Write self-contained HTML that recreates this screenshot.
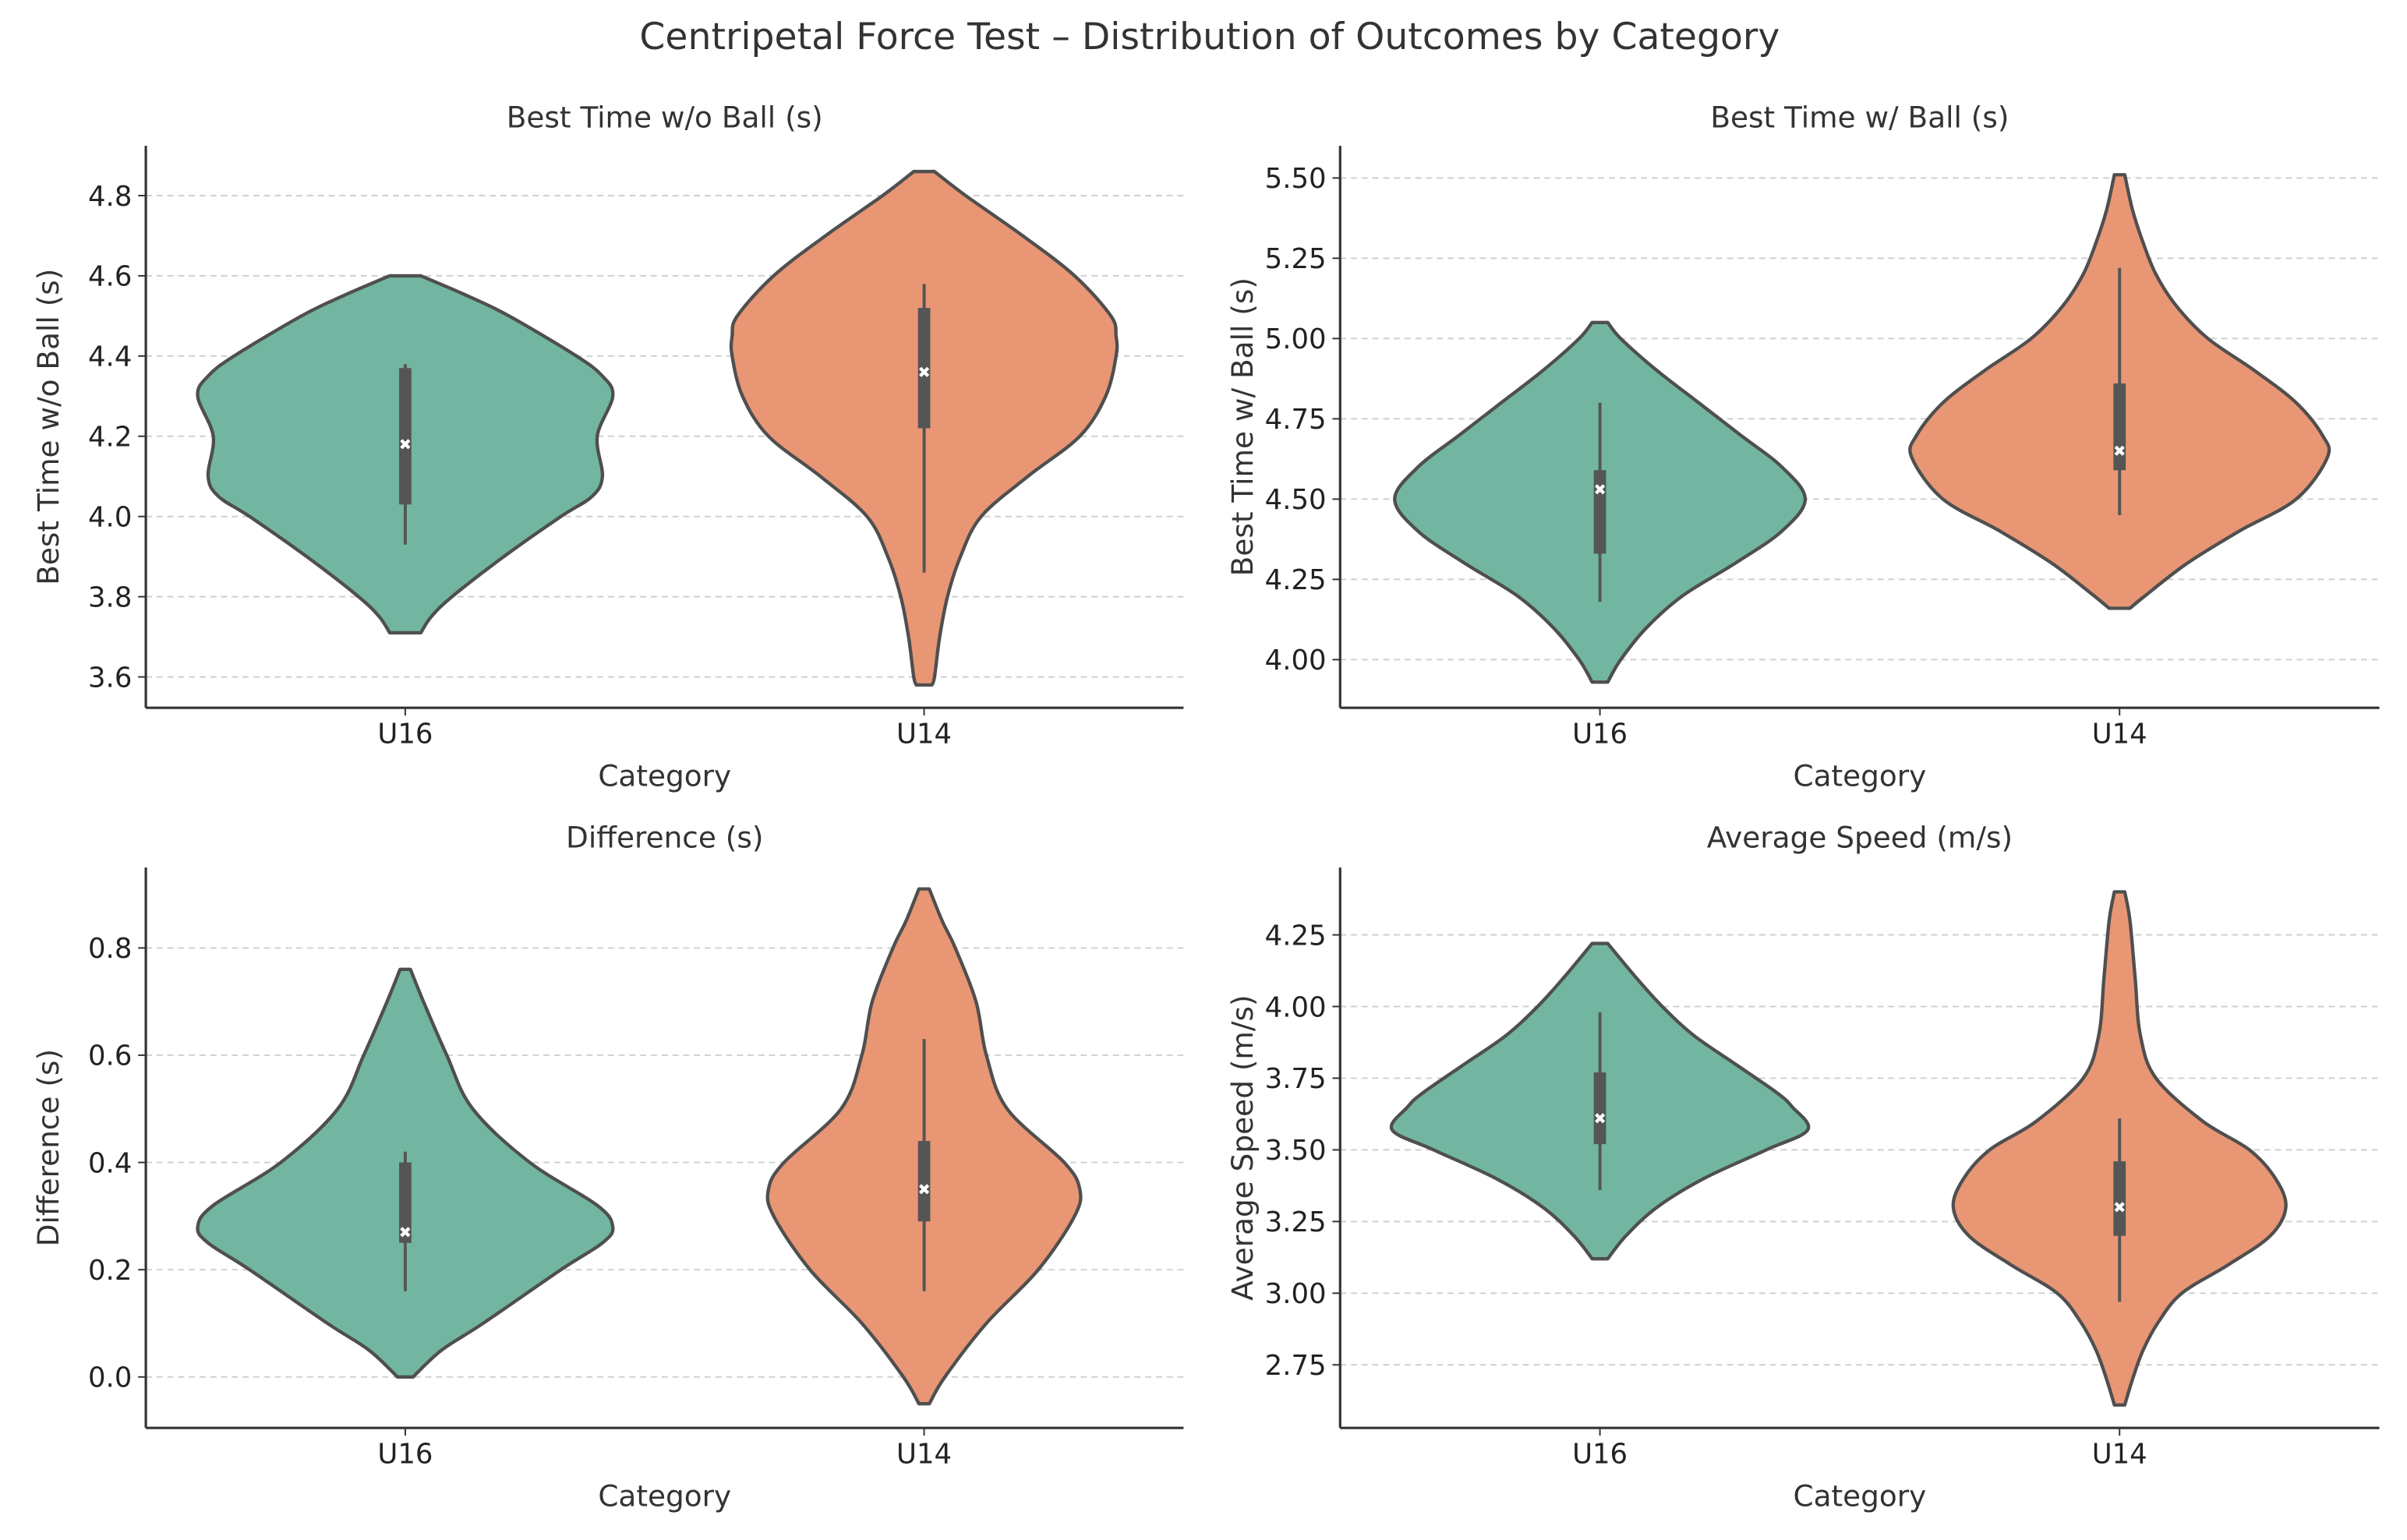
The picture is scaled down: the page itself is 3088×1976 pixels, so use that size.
<!DOCTYPE html>
<html><head><meta charset="utf-8"><style>
html,body{margin:0;padding:0;background:#fff;}
svg{display:block;font-family:"DejaVu Sans","Liberation Sans",sans-serif;}
</style></head><body>
<svg id="fig" width="3088" height="1976" viewBox="0 0 1568 1003" preserveAspectRatio="none" xmlns="http://www.w3.org/2000/svg">
<rect width="1568" height="1003" fill="#fff"/>
<text x="788" y="32" text-anchor="middle" font-size="24" fill="#333">Centripetal Force Test – Distribution of Outcomes by Category</text>
</svg>
<script>
const categories = ["U16", "U14"];
const panelTitles = ["Best Time w/o Ball (s)", "Best Time w/ Ball (s)", "Difference (s)", "Average Speed (m/s)"];
const yLabels = ["Best Time w/o Ball (s)", "Best Time w/ Ball (s)", "Difference (s)", "Average Speed (m/s)"];
const tickLabels = [
  ["3.6","3.8","4.0","4.2","4.4","4.6","4.8"],
  ["4.00","4.25","4.50","4.75","5.00","5.25","5.50"],
  ["0.0","0.2","0.4","0.6","0.8"],
  ["2.75","3.00","3.25","3.50","3.75","4.00","4.25"]
];
const yDomains = [[3.523,4.924],[3.85,5.60],[-0.095,0.95],[2.53,4.485]];
// violin density profiles: values and half-widths (category units)
const p1U16Vals = [3.71,3.75,3.8,3.9,4.0,4.05,4.1,4.2,4.3,4.35,4.4,4.5,4.55,4.6];
const p1U16Wid  = [0.03,0.05,0.09,0.19,0.30,0.36,0.38,0.37,0.40,0.38,0.33,0.20,0.12,0.03];
const p1U14Vals = [3.58,3.6,3.7,3.8,3.9,4.0,4.1,4.2,4.3,4.4,4.45,4.5,4.6,4.7,4.8,4.86];
const p1U14Wid  = [0.015,0.02,0.03,0.045,0.07,0.11,0.20,0.30,0.35,0.37,0.37,0.36,0.29,0.19,0.08,0.02];
const p2U16Vals = [3.93,4.0,4.1,4.2,4.3,4.4,4.5,4.6,4.7,4.8,4.9,5.0,5.05];
const p2U16Wid  = [0.015,0.04,0.09,0.16,0.26,0.35,0.395,0.35,0.27,0.19,0.11,0.04,0.015];
const p2U14Vals = [4.16,4.2,4.3,4.4,4.5,4.63,4.7,4.8,4.9,5.0,5.1,5.2,5.3,5.4,5.51];
const p2U14Wid  = [0.02,0.05,0.13,0.23,0.34,0.40,0.39,0.34,0.26,0.17,0.11,0.07,0.045,0.025,0.01];
const p3U16Vals = [0.0,0.05,0.1,0.2,0.25,0.28,0.32,0.4,0.5,0.6,0.7,0.76];
const p3U16Wid  = [0.015,0.07,0.15,0.30,0.38,0.40,0.37,0.24,0.13,0.08,0.035,0.01];
const p3U14Vals = [-0.05,0.0,0.1,0.2,0.3,0.35,0.4,0.5,0.6,0.7,0.8,0.85,0.91];
const p3U14Wid  = [0.01,0.04,0.12,0.22,0.29,0.30,0.27,0.16,0.12,0.10,0.06,0.035,0.01];
const p4U16Vals = [3.12,3.2,3.3,3.4,3.5,3.57,3.65,3.7,3.8,3.9,4.0,4.1,4.22];
const p4U16Wid  = [0.015,0.05,0.11,0.20,0.32,0.40,0.37,0.34,0.26,0.18,0.12,0.07,0.015];
const p4U14Vals = [2.61,2.7,2.8,2.9,3.0,3.1,3.2,3.3,3.4,3.5,3.6,3.75,3.9,4.1,4.3,4.40];
const p4U14Wid  = [0.01,0.025,0.045,0.075,0.12,0.21,0.29,0.32,0.30,0.25,0.16,0.07,0.04,0.03,0.02,0.01];
// box stats: [whiskerLow, q1, median, q3, whiskerHigh]
const p1Box = [[3.93,4.03,4.18,4.37,4.38],[3.86,4.22,4.36,4.52,4.58]];
const p2Box = [[4.18,4.33,4.53,4.59,4.80],[4.45,4.59,4.65,4.86,5.22]];
const p3Box = [[0.16,0.25,0.27,0.40,0.42],[0.16,0.29,0.35,0.44,0.63]];
const p4Box = [[3.36,3.52,3.61,3.77,3.98],[2.97,3.20,3.30,3.46,3.61]];

const violinVals = [[p1U16Vals,p1U14Vals],[p2U16Vals,p2U14Vals],[p3U16Vals,p3U14Vals],[p4U16Vals,p4U14Vals]];
const violinWid = [[p1U16Wid,p1U14Wid],[p2U16Wid,p2U14Wid],[p3U16Wid,p3U14Wid],[p4U16Wid,p4U14Wid]];
const boxes = [p1Box,p2Box,p3Box,p4Box];
const colors = ["#72b6a1","#e99675"];
const layout = [
  {l:95,r:771,t:95,b:461,tt:77},
  {l:873,r:1550,t:95,b:461,tt:77},
  {l:95,r:771,t:565,b:930,tt:546},
  {l:873,r:1550,t:565,b:930,tt:546}
];
const NS = "http://www.w3.org/2000/svg";
const svg = document.getElementById('fig');
function mk(tag, attrs, parent){const e=document.createElementNS(NS,tag);for(const k in attrs)e.setAttribute(k,attrs[k]);(parent||svg).appendChild(e);return e;}

function smoothPath(pts){
  let d = "M"+pts[0][0].toFixed(2)+","+pts[0][1].toFixed(2);
  for(let i=0;i<pts.length-1;i++){
    const p0=pts[Math.max(0,i-1)],p1=pts[i],p2=pts[i+1],p3=pts[Math.min(pts.length-1,i+2)];
    const c1=[p1[0]+(p2[0]-p0[0])/6,p1[1]+(p2[1]-p0[1])/6];
    const c2=[p2[0]-(p3[0]-p1[0])/6,p2[1]-(p3[1]-p1[1])/6];
    d+=" C"+c1[0].toFixed(2)+","+c1[1].toFixed(2)+" "+c2[0].toFixed(2)+","+c2[1].toFixed(2)+" "+p2[0].toFixed(2)+","+p2[1].toFixed(2);
  }
  return d;
}

layout.forEach((L,pi)=>{
  const g = mk('g',{});
  
  
  const dom = yDomains[pi];
  const y = v => L.b - (v-dom[0])/(dom[1]-dom[0])*(L.b-L.t);
  const step = (L.r-L.l)/2;
  const x = c => L.l + step*(c+0.5);
  tickLabels[pi].forEach(t=>{
    const v=parseFloat(t), yy=y(v);
    const gl=mk('line',{x1:L.l,x2:L.r,y1:yy,y2:yy,stroke:'#cfcfcf','stroke-width':1,'stroke-dasharray':'4,3'},g);
    
    
    mk('line',{x1:L.l-5,x2:L.l,y1:yy,y2:yy,stroke:'#333','stroke-width':1},g);
    const tl=mk('text',{x:L.l-9,y:yy+6.5,'text-anchor':'end','font-size':18,fill:'#222'},g);
    tl.textContent=t;
    
    
  });
  categories.forEach((c,ci)=>{
    const vals=violinVals[pi][ci], wid=violinWid[pi][ci], cx=x(ci);
    const right=vals.map((v,i)=>[cx+wid[i]*step,y(v)]);
    const left=vals.map((v,i)=>[cx-wid[i]*step,y(v)]).reverse();
    const d=smoothPath(right)+" L"+left[0][0].toFixed(2)+","+left[0][1].toFixed(2)+smoothPath(left).replace(/^M[^ ]+/,"")+" Z";
    const p=mk('path',{d:d,fill:colors[ci],stroke:'#4f4f4f','stroke-width':2.2,'stroke-linejoin':'round'},g);
    
    
    const b=boxes[pi][ci];
    const wl=mk('line',{x1:cx,x2:cx,y1:y(b[0]),y2:y(b[4]),stroke:'#555','stroke-width':2},g);
    
    
    const br=mk('rect',{x:cx-4,width:8,y:y(b[3]),height:y(b[1])-y(b[3]),fill:'#555'},g);
    
    
    const md=mk('text',{x:cx,y:y(b[2])+3.5,'text-anchor':'middle','font-size':10,'font-weight':'bold',fill:'#fff'},g);
    md.textContent='✖';
    
    
    mk('line',{x1:cx,x2:cx,y1:L.b,y2:L.b+5,stroke:'#333','stroke-width':1},g);
    const xl=mk('text',{x:cx,y:L.b+23,'text-anchor':'middle','font-size':18,fill:'#222'},g);
    xl.textContent=c;
    
    
  });
  mk('line',{x1:L.l,x2:L.l,y1:L.t,y2:L.b,stroke:'#333','stroke-width':1.6},g);
  mk('line',{x1:L.l,x2:L.r,y1:L.b,y2:L.b,stroke:'#333','stroke-width':1.6},g);
  const tt=mk('text',{x:(L.l+L.r)/2,y:L.tt+6,'text-anchor':'middle','font-size':19,fill:'#333'},g);
  tt.textContent=panelTitles[pi];
  
  
  const xt=mk('text',{x:(L.l+L.r)/2,y:L.b+51,'text-anchor':'middle','font-size':19,fill:'#333'},g);
  xt.textContent='Category';
  
  
  const cy=(L.t+L.b)/2;
  const yt=mk('text',{x:0,y:0,'text-anchor':'middle','font-size':19,fill:'#333',transform:'translate('+(L.l-57)+','+cy+') rotate(-90)'},g);
  yt.textContent=yLabels[pi];
  
  
});
</script>
</body></html>
